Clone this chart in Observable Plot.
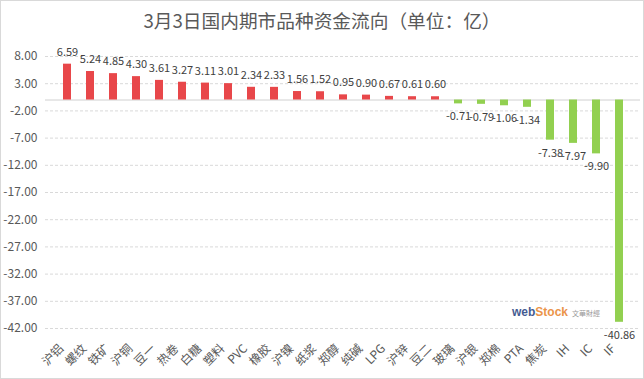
<!DOCTYPE html>
<html>
<head>
<meta charset="utf-8">
<script src="https://cdn.jsdelivr.net/npm/d3@7"></script>
<script src="https://cdn.jsdelivr.net/npm/@observablehq/plot@0.6"></script>
<style>
  html, body { margin: 0; padding: 0; background: #fff; }
  #wrap { position: relative; width: 644px; height: 379px; overflow: hidden; font-family: "Noto Sans CJK SC", sans-serif; }
  #frame { position: absolute; left: 0; top: 0; width: 642px; height: 377px; border: 1px solid #d9d9d9; pointer-events: none; }
  #title { position: absolute; left: 0; top: 6px; width: 644px; text-align: center; font-size: 18.7px; color: #595959; }
  #chart { position: absolute; left: 0; top: 0; }
  #mark { position: absolute; left: 512px; top: 302px; font-size: 12px; white-space: nowrap; opacity: 0.85; }
  #mark .w { color: #1f3f7f; font-weight: bold; font-family: Arial, "Liberation Sans", sans-serif; }
  #mark .s { color: #e8822a; font-weight: bold; font-family: Arial, "Liberation Sans", sans-serif; }
  #mark .c { color: #8a8a8a; font-size: 7px; margin-left: 4px; }
</style>
</head>
<body>
<div id="wrap">
  <div id="chart"></div>
  <div id="title">3月3日国内期市品种资金流向（单位：亿）</div>
  <div id="mark"><span class="w">web</span><span class="s">Stock</span><span class="c">文華財經</span></div>
  <div id="frame"></div>
</div>
<script>
const categories = ["沪铝","螺纹","铁矿","沪铜","豆一","热卷","白糖","塑料","PVC","橡胶","沪镍","纸浆","郑醇","纯碱","LPG","沪锌","豆二","玻璃","沪银","郑棉","PTA","焦炭","IH","IC","IF"];
const values = [6.59, 5.24, 4.85, 4.30, 3.61, 3.27, 3.11, 3.01, 2.34, 2.33, 1.56, 1.52, 0.95, 0.90, 0.67, 0.61, 0.60, -0.71, -0.79, -1.06, -1.34, -7.38, -7.97, -9.90, -40.86];
const yTicks = [8, 3, -2, -7, -12, -17, -22, -27, -32, -37, -42];

const data = categories.map((name, i) => ({name, value: values[i]}));
const pos = data.filter(d => d.value >= 0);
const neg = data.filter(d => d.value < 0);
const RED = "#E8474A", GREEN = "#92D050";

const chart = Plot.plot({
  width: 644,
  height: 379,
  marginTop: 56,
  marginBottom: 51,
  marginLeft: 45,
  marginRight: 4,
  x: {domain: categories, paddingInner: 0.664, paddingOuter: 0.336, label: null},
  y: {domain: [-42, 8], label: null},
  style: {fontFamily: "'Noto Sans CJK SC', sans-serif", fontSize: "12px", color: "#595959", background: "transparent", overflow: "visible"},
  marks: [
    Plot.ruleY(yTicks, {stroke: "#d9d9d9", strokeDasharray: "3,2"}),
    Plot.ruleY([0], {stroke: "#d0d0d0"}),
    Plot.barY(pos, {x: "name", y: "value", fill: RED}),
    Plot.barY(neg, {x: "name", y: "value", fill: GREEN}),
    Plot.text(pos, {x: "name", y: "value", text: d => d.value.toFixed(2), dy: -12, fontSize: 11, fill: "#404040"}),
    Plot.text(neg, {x: "name", y: "value", text: d => d.value.toFixed(2), dy: 13, fontSize: 11, fill: "#404040"}),
    Plot.axisY(yTicks, {tickSize: 0, tickPadding: 8, tickFormat: d => d.toFixed(2), fontSize: 12, fill: "#595959", label: null}),
    Plot.axisX({tickRotate: -45, tickSize: 0, tickPadding: 18, dx: -6, fontSize: 12, fill: "#595959", label: null})
  ]
});
document.getElementById("chart").appendChild(chart);
</script>
</body>
</html>
